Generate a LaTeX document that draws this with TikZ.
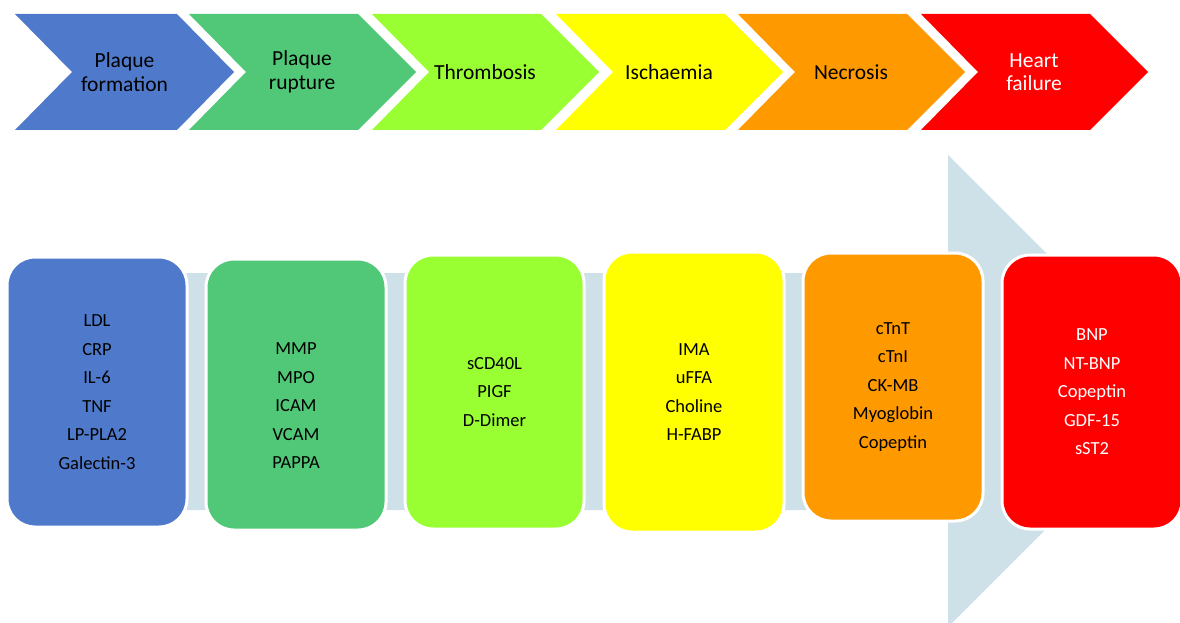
\documentclass[tikz,border=0pt]{standalone}
\usepackage{fontspec}
\setmainfont{Carlito}
\definecolor{cblue}{HTML}{4F7ACB}
\definecolor{cgreen}{HTML}{50C878}
\definecolor{clime}{HTML}{99FF33}
\definecolor{cyellow}{HTML}{FFFF00}
\definecolor{corange}{HTML}{FF9900}
\definecolor{cred}{HTML}{FF0000}
\definecolor{cbar}{HTML}{CFE1E8}
\tikzset{
  chevtext/.style={align=center,font=\fontsize{21.5}{23.5}\selectfont,text=black,inner sep=0},
  markerbox/.style={rounded corners=28pt,draw=white,line width=3pt,inner sep=0,
     minimum width=180pt,align=center,font=\fontsize{18.5}{28.5}\selectfont,text=black},
  boxtext/.style={align=center,font=\fontsize{18.5}{28.5}\selectfont,text=black,inner sep=0},
}
\begin{document}
\begin{tikzpicture}[x=1pt,y=-1pt]
\useasboundingbox (0,0) rectangle (1180,623);
\clip (0,0) rectangle (1180,623);
% big background arrow
\fill[cbar] (20,273) -- (948,273) -- (948,155) -- (1184,391) -- (948,627) -- (948,510) -- (20,510) -- cycle;
% chevrons
\fill[cblue] (15,14) -- (177,14) -- (234,72) -- (177,130) -- (15,130) -- (72,72) -- cycle;
\node[chevtext] (c1) at (124.5,72) {Plaque\\formation};
\foreach \s/\col/\nm in {189/cgreen/c2,372/clime/c3,556/cyellow/c4,738/corange/c5,921/cred/c6}{
  \fill[\col] (\s,14) -- (\s+169,14) -- (\s+227,72) -- (\s+169,130) -- (\s,130) -- (\s+57,72) -- cycle;
}
\node[chevtext] (c2) at (302,72) {Plaque\\rupture};
\node[chevtext] (c3) at (485,72) {Thrombosis};
\node[chevtext] (c4) at (669,72) {Ischaemia};
\node[chevtext] (c5) at (851,72) {Necrosis};
\node[chevtext,text=white] (c6) at (1034,72) {Heart\\failure};
% marker boxes
\node[markerbox,fill=cblue,minimum height=270pt] (b1) at (97,392)
  {LDL\\CRP\\IL-6\\TNF\\LP-PLA2\\Galectin-3};
\node[markerbox,fill=cgreen,minimum height=271pt] (b2) at (296,394.5) {};
\node[boxtext] (b2t) at (296,406) {MMP\\MPO\\ICAM\\VCAM\\PAPPA};
\node[markerbox,fill=clime,minimum height=274pt,minimum width=179pt] (b3) at (494.5,392)
  {sCD40L\\PIGF\\D-Dimer};
\node[markerbox,fill=cyellow,minimum height=280pt] (b4) at (694,392)
  {IMA\\uFFA\\Choline\\H-FABP};
\node[markerbox,fill=corange,minimum height=268pt] (b5) at (893,387)
  {cTnT\\cTnI\\CK-MB\\Myoglobin\\Copeptin};
\node[markerbox,fill=cred,text=white,minimum height=274pt] (b6) at (1092,392)
  {BNP\\NT-BNP\\Copeptin\\GDF-15\\sST2};
\end{tikzpicture}
\end{document}
